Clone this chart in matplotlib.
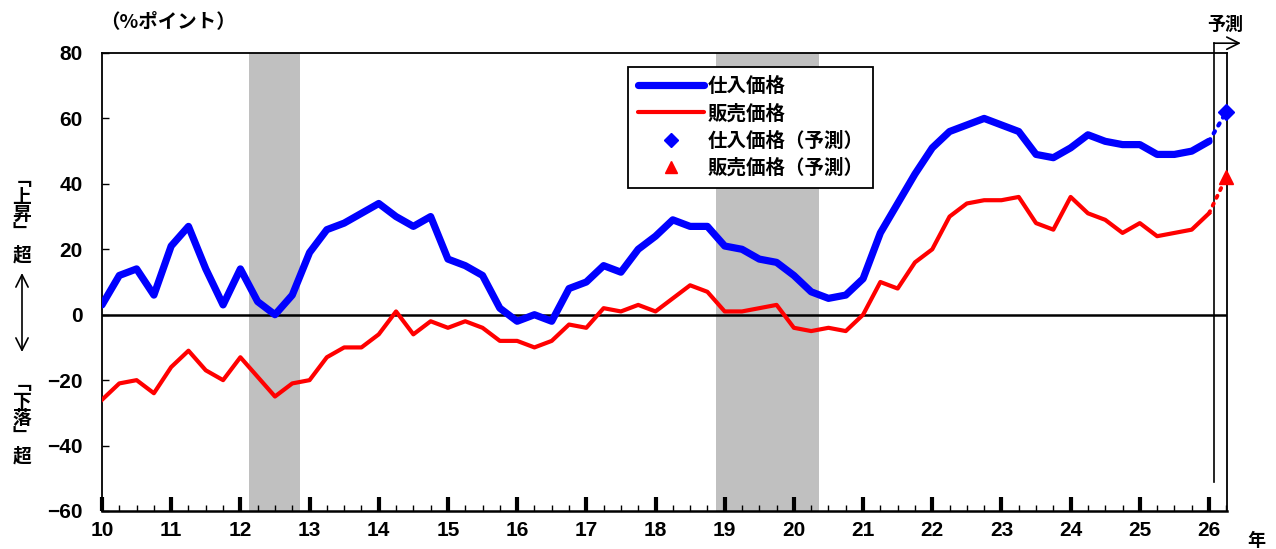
import matplotlib
matplotlib.use("Agg")
import matplotlib.pyplot as plt
from matplotlib.lines import Line2D
import numpy as np

plt.rcParams['font.family'] = ['Noto Sans CJK JP', 'DejaVu Sans']

# quarterly DI values, 2010Q1 .. 2026Q1
purchase = [3, 12, 14, 6, 21, 27, 14, 3, 14, 4, 0, 6, 19, 26, 28, 31, 34, 30, 27, 30,
            17, 15, 12, 2, -2, 0, -2, 8, 10, 15, 13, 20, 24, 29, 27, 27, 21, 20, 17, 16,
            12, 7, 5, 6, 11, 25, 34, 43, 51, 56, 58, 60, 58, 56, 49, 48, 51, 55, 53, 52,
            52, 49, 49, 50, 53]
selling = [-26, -21, -20, -24, -16, -11, -17, -20, -13, -19, -25, -21, -20, -13, -10, -10,
           -6, 1, -6, -2, -4, -2, -4, -8, -8, -10, -8, -3, -4, 2, 1, 3, 1, 5, 9, 7,
           1, 1, 2, 3, -4, -5, -4, -5, 0, 10, 8, 16, 20, 30, 34, 35, 35, 36, 28, 26,
           36, 31, 29, 25, 28, 24, 25, 26, 31]
purchase_fc = 62
selling_fc = 42
start_year = 10
fc_x = 26.25
recessions = [(12.12, 12.86), (18.87, 20.37)]
years = list(range(10, 27))

x = start_year + np.arange(len(purchase)) / 4

fig = plt.figure(figsize=(12.76, 5.49), dpi=100)
ax = fig.add_axes([102/1276, 1-511/549, 1125/1276, 458/549])

for a, b in recessions:
    ax.axvspan(a, b, color='#c0c0c0', lw=0, zorder=0)

ax.axhline(0, color='black', lw=1.8, zorder=1)

ax.plot(x, purchase, color='#0000ff', lw=5.2, solid_joinstyle='round', solid_capstyle='round', zorder=3)
ax.plot(x, selling, color='#ff0000', lw=3, solid_joinstyle='round', zorder=3)
ax.plot([x[-1], fc_x], [purchase[-1], purchase_fc], color='#0000ff', lw=3, ls=(0, (0.6, 1.6)),
        dash_capstyle='round', zorder=3, clip_on=False)
ax.plot([x[-1], fc_x], [selling[-1], selling_fc], color='#ff0000', lw=2.8, ls=(0, (0.6, 1.6)),
        dash_capstyle='round', zorder=3, clip_on=False)
ax.plot([fc_x], [purchase_fc], marker='D', color='#0000ff', ms=8, ls='none', clip_on=False, zorder=4)
ax.plot([fc_x], [selling_fc], marker='^', color='#ff0000', ms=10, ls='none', clip_on=False, zorder=4)

# forecast marker line
ax.plot([26.07, 26.07], [-51, 83], color='black', lw=1.2, clip_on=False, zorder=2)
ax.annotate('', xy=(26.46, 83), xytext=(26.07, 83), xycoords='data',
            arrowprops=dict(arrowstyle='->', lw=1.2, mutation_scale=22, shrinkA=0, shrinkB=0),
            annotation_clip=False)

ax.set_xlim(10, 26.26)
ax.set_ylim(-60, 80)
ax.set_xticks(years)
ax.set_xticks(np.arange(10, 26.26, 0.25), minor=True)
ax.set_yticks(range(-60, 81, 20))
ax.set_yticklabels(['\u221260', '\u221240', '\u221220', '0', '20', '40', '60', '80'])
ax.set_xticklabels([str(y) for y in years])

num_family = ['Liberation Sans Narrow', 'Liberation Sans', 'DejaVu Sans']
for lab in ax.get_xticklabels() + ax.get_yticklabels():
    lab.set_fontfamily(num_family)
    lab.set_fontsize(15)
    lab.set_fontweight('bold')

ax.tick_params(axis='x', which='major', direction='in', length=10, width=3, pad=7)
ax.tick_params(axis='x', which='minor', direction='in', length=4.5, width=1)
ax.tick_params(axis='y', which='major', direction='in', length=5, width=1, pad=14)
ax.tick_params(top=False, right=False)
for s in ax.spines.values():
    s.set_linewidth(1.3)
ax.spines['bottom'].set_linewidth(1.8)

handles = [Line2D([], [], color='#0000ff', lw=5.2, solid_capstyle='round'),
           Line2D([], [], color='#ff0000', lw=3, solid_capstyle='round'),
           Line2D([], [], color='#0000ff', marker='D', ls='none', ms=7),
           Line2D([], [], color='#ff0000', marker='^', ls='none', ms=9)]
labels = ['仕入価格', '販売価格', '仕入価格（予測）', '販売価格（予測）']
leg = fig.legend(handles, labels, loc='upper left', bbox_to_anchor=(628/1276, 1-67/549),
                 frameon=True, fancybox=False, edgecolor='black', framealpha=1,
                 prop=dict(family='Noto Sans CJK JP', weight='bold', size=14),
                 handlelength=3.4, handletextpad=0.2, labelspacing=0.42,
                 borderpad=0.5, borderaxespad=0)
leg.get_frame().set_linewidth(1.3)

jp = dict(family='Noto Sans CJK JP', weight='bold')
fig.text(100/1276, 1-22/549, '（%ポイント）', fontsize=14, va='center', ha='left', **jp)
fig.text(1225/1276, 1-24/549, '予測', fontsize=13, va='center', ha='center', **jp)
fig.text(1256/1276, 1-540/549, '年', fontsize=13, va='center', ha='center', **jp)

fig.text(22/1276, 1-206/549, '﹁\n上\n昇\n﹂', fontsize=13.5, va='center', ha='center',
         linespacing=0.9, **jp)
fig.text(22/1276, 1-255/549, '超', fontsize=13.5, va='center', ha='center', **jp)
fig.text(22/1276, 1-410/549, '﹁\n下\n落\n﹂', fontsize=13.5, va='center', ha='center',
         linespacing=0.9, **jp)
fig.text(22/1276, 1-456/549, '超', fontsize=13.5, va='center', ha='center', **jp)
ax.annotate('', xy=(22, 549-273), xytext=(22, 549-352), xycoords='figure pixels',
            arrowprops=dict(arrowstyle='<->', lw=1.2, mutation_scale=22, shrinkA=0, shrinkB=0),
            annotation_clip=False)

fig.savefig('out.png', dpi=100)
